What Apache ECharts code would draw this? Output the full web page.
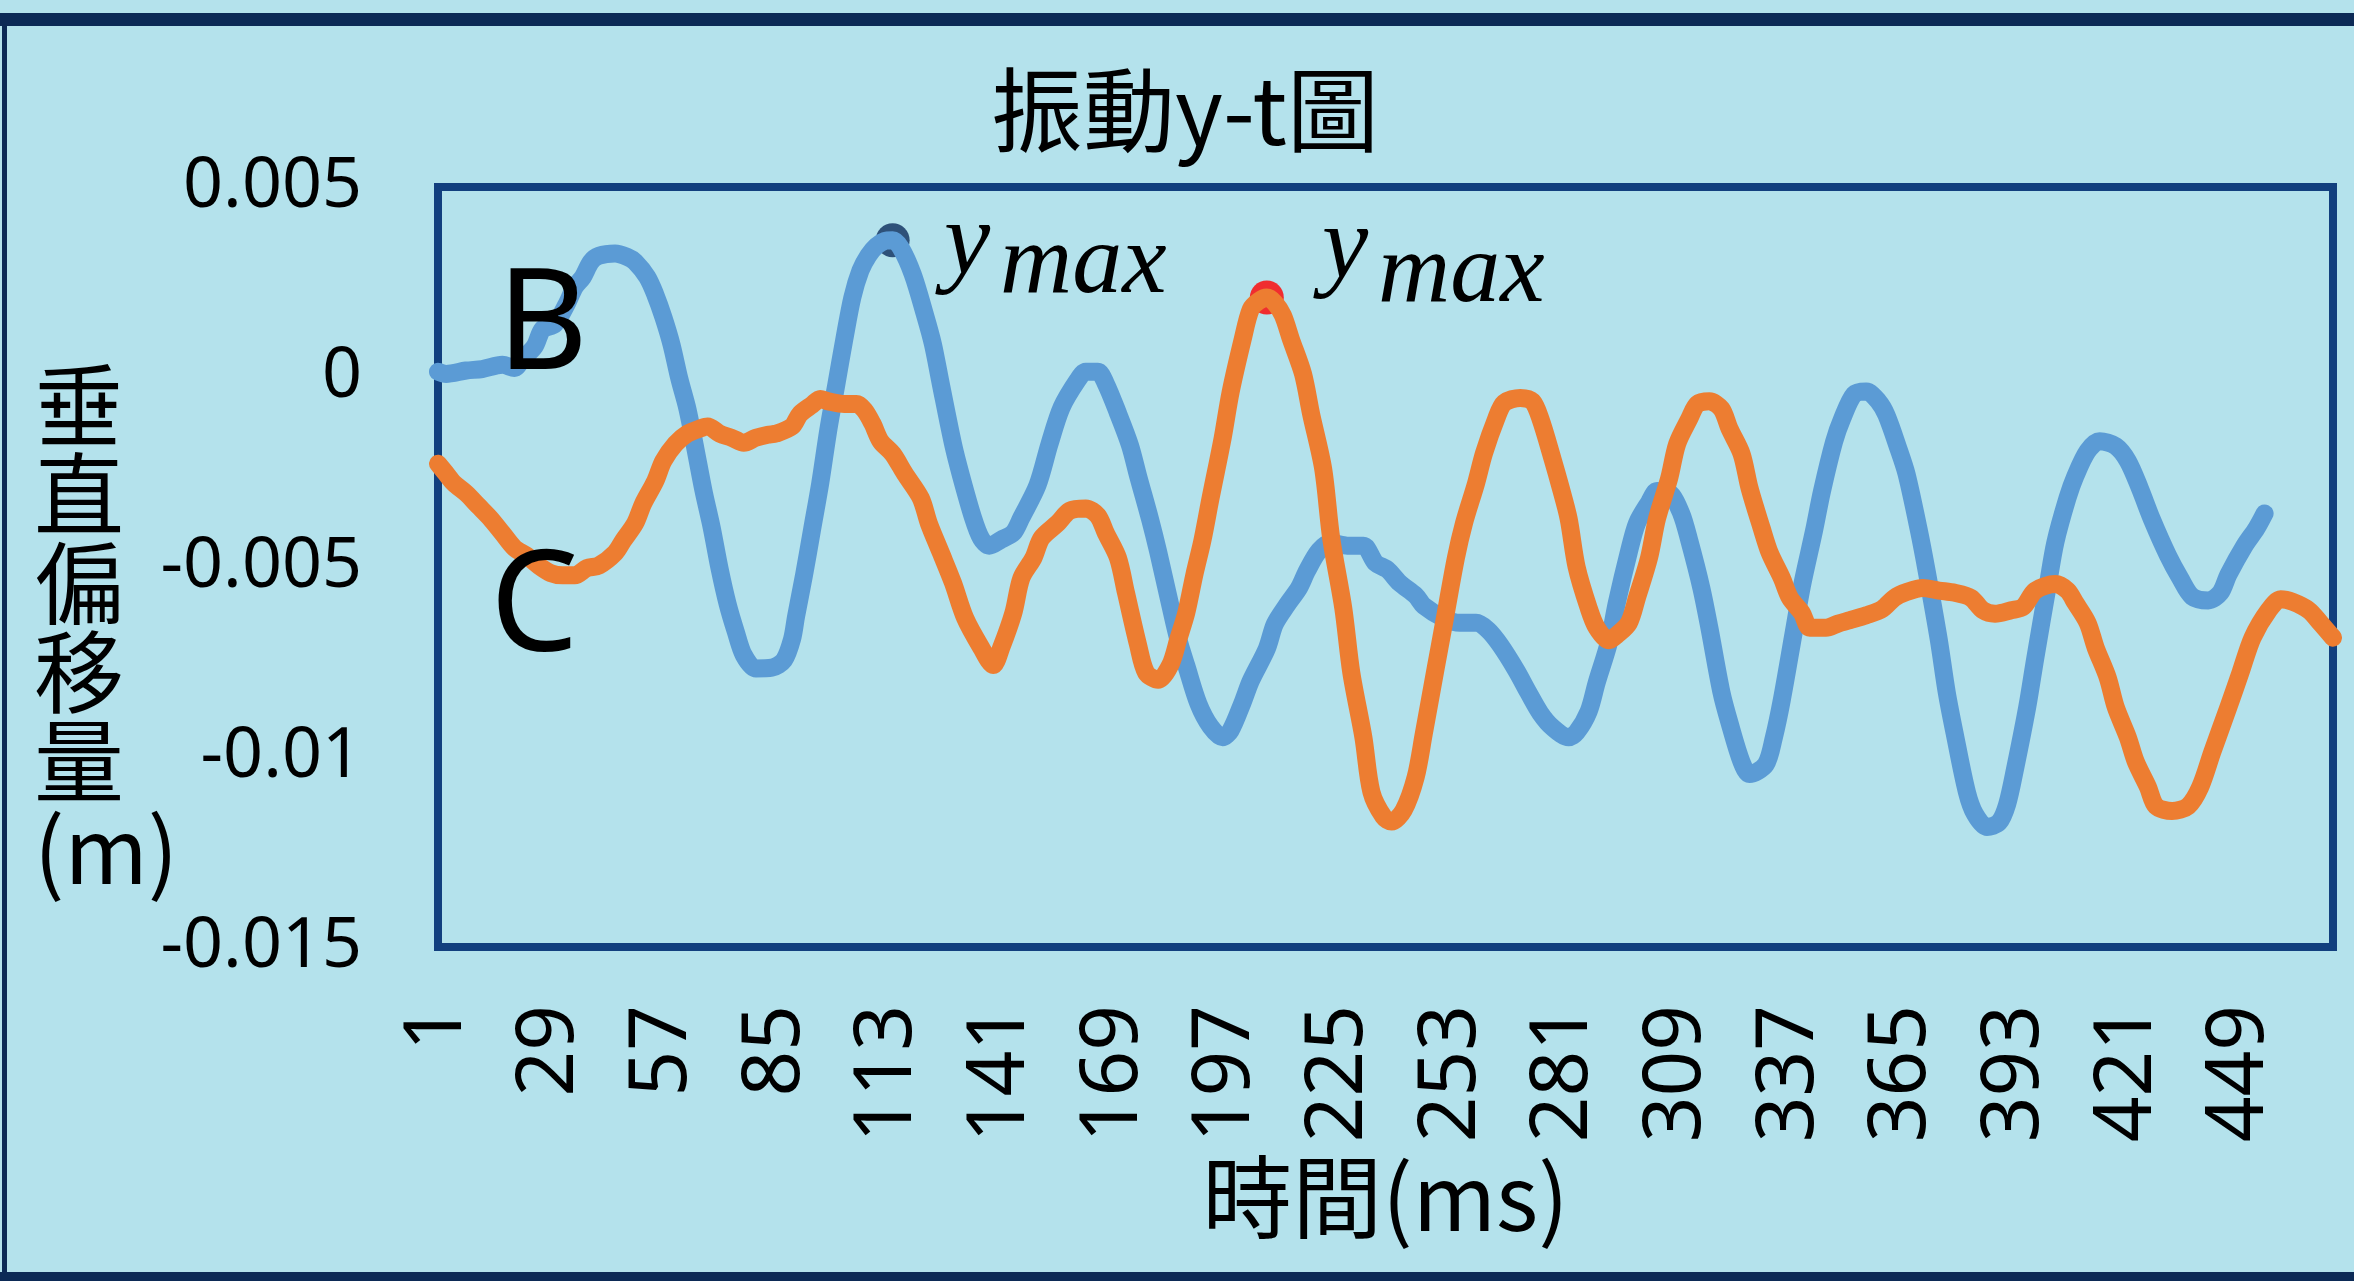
<!DOCTYPE html>
<html>
<head>
<meta charset="utf-8">
<script src="https://cdn.jsdelivr.net/npm/echarts@6/dist/echarts.min.js"></script>
<style>
  html, body { margin: 0; padding: 0; background: #b4e2ec; }
  #chart { width: 2354px; height: 1281px; }
</style>
</head>
<body>
<div id="chart"></div>
<script>
// Sample index (ms) count and the labelled ticks on the time axis
const sampleCount = 472;
const xTickLabels = [1, 29, 57, 85, 113, 141, 169, 197, 225, 253, 281, 309, 337, 365, 393, 421, 449];
const yTicks = { min: -0.015, max: 0.005, step: 0.005 };

// Point B: time (ms) and vertical displacement (mm)
const timeB = [1, 3, 8, 12, 17, 20, 22, 25, 27, 30, 33, 35, 37, 39, 41, 45, 48, 50, 53, 55, 57, 59, 61, 63, 65, 67, 69, 71, 73, 75, 77, 80, 84, 87, 89, 90, 92, 94, 96, 98, 100, 102, 104, 106, 108, 110, 112, 114, 116, 119, 122, 124, 126, 129, 131, 134, 136, 138, 141, 144, 146, 150, 153, 156, 160, 162, 165, 167, 170, 173, 175, 178, 180, 183, 185, 187, 190, 193, 196, 198, 201, 203, 207, 209, 212, 215, 217, 220, 223, 227, 231, 234, 237, 240, 244, 246, 251, 255, 259, 262, 265, 269, 272, 275, 278, 282, 284, 287, 289, 292, 294, 297, 299, 302, 304, 307, 310, 312, 315, 317, 320, 322, 325, 327, 331, 333, 335, 338, 340, 343, 345, 348, 350, 353, 356, 359, 361, 364, 366, 369, 371, 374, 376, 378, 381, 383, 386, 389, 391, 393, 396, 398, 401, 403, 406, 408, 411, 414, 418, 421, 424, 427, 431, 434, 437, 441, 444, 446, 450, 453, 455];
const dispB_mm = [0.14, 0.08, 0.17, 0.21, 0.32, 0.24, 0.47, 0.80, 1.26, 1.39, 1.92, 2.37, 2.63, 3.03, 3.19, 3.25, 3.16, 3.03, 2.63, 2.17, 1.58, 0.87, -0.05, -0.84, -1.9, -3.0, -3.95, -5.05, -5.98, -6.7, -7.32, -7.67, -7.65, -7.45, -6.9, -6.3, -5.2, -4.0, -2.8, -1.4, -0.2, 1.0, 2.1, 2.8, 3.2, 3.45, 3.58, 3.6, 3.4, 2.7, 1.65, 0.87, -0.2, -1.76, -2.6, -3.71, -4.25, -4.44, -4.28, -4.1, -3.7, -2.85, -1.76, -0.8, -0.08, 0.14, 0.14, -0.18, -0.95, -1.8, -2.6, -3.75, -4.6, -6.0, -6.9, -7.6, -8.6, -9.2, -9.48, -9.3, -8.56, -8.0, -7.15, -6.5, -6.0, -5.55, -5.1, -4.57, -4.37, -4.44, -4.44, -4.89, -5.07, -5.42, -5.75, -6.02, -6.35, -6.47, -6.47, -6.66, -7.05, -7.72, -8.3, -8.85, -9.22, -9.48, -9.35, -8.8, -8.04, -7.0, -5.94, -4.6, -3.85, -3.3, -3.0, -3.04, -3.59, -4.3, -5.55, -6.6, -8.3, -9.1, -10.13, -10.45, -10.2, -9.5, -8.5, -6.7, -5.5, -4.05, -3.0, -1.7, -1.1, -0.45, -0.38, -0.64, -1.0, -1.89, -2.55, -4.0, -5.1, -6.9, -8.3, -9.4, -10.92, -11.5, -11.84, -11.72, -11.25, -10.3, -8.69, -7.4, -5.55, -4.35, -3.19, -2.6, -1.95, -1.69, -1.82, -2.21, -2.93, -3.75, -4.7, -5.29, -5.78, -5.88, -5.68, -5.2, -4.44, -3.98, -3.59];

// Point C: time (ms) and vertical displacement (mm)
const timeC = [1, 3, 5, 8, 11, 14, 17, 20, 23, 26, 29, 32, 35, 38, 41, 45, 47, 50, 52, 55, 57, 60, 63, 66, 68, 71, 74, 77, 80, 83, 85, 89, 91, 94, 96, 98, 102, 105, 107, 109, 111, 114, 117, 121, 123, 126, 129, 132, 136, 139, 141, 144, 146, 149, 151, 155, 158, 162, 165, 167, 170, 172, 175, 177, 180, 183, 185, 187, 189, 191, 193, 196, 198, 201, 203, 205, 207, 209, 211, 213, 216, 218, 221, 223, 226, 228, 231, 233, 236, 238, 241, 244, 246, 249, 251, 254, 256, 259, 261, 264, 266, 270, 273, 275, 278, 280, 282, 284, 287, 289, 292, 294, 297, 299, 302, 304, 307, 309, 312, 314, 317, 320, 322, 325, 327, 330, 332, 335, 337, 340, 342, 346, 349, 352, 356, 360, 363, 366, 370, 374, 378, 382, 385, 388, 392, 395, 398, 403, 406, 408, 411, 413, 416, 418, 421, 423, 426, 428, 432, 436, 439, 442, 446, 449, 452, 456, 459, 462, 466, 469, 472];
const dispC_mm = [-2.28, -2.54, -2.8, -3.06, -3.39, -3.72, -4.11, -4.5, -4.7, -4.96, -5.16, -5.22, -5.22, -5.03, -4.96, -4.63, -4.31, -3.85, -3.33, -2.74, -2.21, -1.76, -1.49, -1.36, -1.3, -1.49, -1.6, -1.73, -1.6, -1.52, -1.49, -1.3, -0.97, -0.73, -0.58, -0.64, -0.71, -0.71, -0.87, -1.23, -1.69, -2.02, -2.54, -3.19, -3.85, -4.63, -5.42, -6.34, -7.12, -7.58, -7.12, -6.21, -5.29, -4.76, -4.24, -3.85, -3.52, -3.46, -3.65, -4.11, -4.76, -5.68, -7.05, -7.78, -7.97, -7.58, -6.9, -6.2, -5.2, -4.3, -3.2, -1.62, -0.4, 0.99, 1.78, 2.0, 2.09, 1.95, 1.62, 0.99, 0.08, -0.97, -2.41, -4.24, -6.08, -7.78, -9.48, -10.92, -11.57, -11.7, -11.4, -10.53, -9.4, -7.65, -6.5, -4.76, -3.85, -2.8, -2.0, -1.1, -0.68, -0.55, -0.64, -1.1, -2.15, -2.9, -3.72, -5.0, -6.08, -6.6, -6.93, -6.79, -6.47, -5.81, -4.76, -3.72, -2.67, -1.76, -1.1, -0.71, -0.64, -0.84, -1.36, -2.02, -2.93, -3.98, -4.63, -5.29, -5.81, -6.21, -6.6, -6.6, -6.49, -6.4, -6.27, -6.1, -5.81, -5.66, -5.55, -5.62, -5.68, -5.81, -6.14, -6.23, -6.14, -6.05, -5.62, -5.45, -5.62, -5.95, -6.47, -7.12, -7.91, -8.69, -9.48, -10.13, -10.79, -11.29, -11.42, -11.29, -10.79, -9.87, -8.69, -7.78, -6.86, -6.14, -5.85, -5.92, -6.14, -6.49, -6.86];

const categories = [];
for (let i = 1; i <= sampleCount; i++) categories.push(String(i));

const toPairs = (times, mm) => times.map((t, i) => [String(t), mm[i] / 1000]);
const seriesB = toPairs(timeB, dispB_mm);
const seriesC = toPairs(timeC, dispC_mm);

// highest point of a trace
function peakOf(pairs) {
  let k = 0;
  pairs.forEach((p, i) => { if (p[1] > pairs[k][1]) k = i; });
  return pairs[k];
}

const latin = '"Noto Sans", "Open Sans", "Noto Sans CJK TC", sans-serif';
const cjk = '"Noto Sans CJK TC", "Noto Sans", sans-serif';
const mathFont = '"Liberation Serif", "DejaVu Serif", serif';

// shared stroke for both traces
const traceStyle = (color) => ({ color: color, width: 18, cap: 'round', join: 'round' });

const chart = echarts.init(document.getElementById('chart'));
chart.setOption({
  backgroundColor: '#b4e2ec',
  animation: false,
  grid: {
    left: 438, right: 21, top: 187, bottom: 334,
    show: true, borderColor: '#123f7e', borderWidth: 8, backgroundColor: 'transparent'
  },
  xAxis: {
    type: 'category',
    data: categories,
    boundaryGap: false,
    axisLine: { show: false },
    axisTick: { show: false },
    splitLine: { show: false },
    axisLabel: {
      interval: (idx, val) => xTickLabels.indexOf(Number(val)) >= 0,
      rotate: 90,
      margin: 58,
      color: '#000',
      fontSize: 80,
      fontFamily: latin
    },
    name: '時間(ms)',
    nameLocation: 'middle',
    nameGap: 205,
    nameTextStyle: { color: '#000', fontSize: 90, fontFamily: cjk }
  },
  yAxis: {
    type: 'value',
    min: yTicks.min, max: yTicks.max, interval: yTicks.step,
    axisLine: { show: false },
    axisTick: { show: false },
    splitLine: { show: false },
    axisLabel: { color: '#000', fontSize: 70, margin: 76, fontFamily: latin }
  },
  series: [
    {
      name: 'ymax', type: 'scatter', z: 1,
      symbol: 'circle', symbolSize: 34,
      data: [
        { value: peakOf(seriesB), itemStyle: { color: '#0c2d5c' } },
        { value: peakOf(seriesC), itemStyle: { color: '#ff0000' } }
      ]
    },
    {
      name: 'B', type: 'line', z: 3, data: seriesB,
      showSymbol: false, symbol: 'none', smooth: 0.3,
      lineStyle: traceStyle('#5b9bd5'),
      emphasis: { disabled: true }
    },
    {
      name: 'C', type: 'line', z: 4, data: seriesC,
      showSymbol: false, symbol: 'none', smooth: 0.3,
      lineStyle: traceStyle('#ed7d31'),
      emphasis: { disabled: true }
    }
  ],
  graphic: [
    // outer frame
    { type: 'rect', z: 0, shape: { x: 0, y: 13, width: 2354, height: 13 }, style: { fill: '#0c2a56' } },
    { type: 'rect', z: 0, shape: { x: 2, y: 13, width: 5, height: 1268 }, style: { fill: '#0c2a56' } },
    { type: 'rect', z: 0, shape: { x: 0, y: 1272, width: 2354, height: 9 }, style: { fill: '#0c2a56' } },
    // title
    { type: 'text', z: 10, x: 1185, y: 110,
      style: { text: '振動y-t圖', fill: '#000', font: '92px ' + cjk, align: 'center', verticalAlign: 'middle' } },
    // vertical axis title
    { type: 'text', z: 10, x: 34, y: 360,
      style: { text: '垂\n直\n偏\n移\n量\n(m)', fill: '#000', fontSize: 90, fontFamily: cjk, lineHeight: 89, align: 'left', verticalAlign: 'top' } },
    // trace names
    { type: 'text', z: 10, x: 497, y: 329,
      style: { text: 'B', fill: '#000', font: '140px ' + latin, align: 'left', verticalAlign: 'middle' } },
    { type: 'text', z: 10, x: 490, y: 611,
      style: { text: 'C', fill: '#000', font: '140px ' + latin, align: 'left', verticalAlign: 'middle' } },
    // y_max annotations
    { type: 'text', z: 10, x: 944, y: 246,
      style: { text: 'y', fill: '#000', font: 'italic 104px ' + mathFont, align: 'left', verticalAlign: 'middle' } },
    { type: 'text', z: 10, x: 1000, y: 266,
      style: { text: 'max', fill: '#000', font: 'italic 100px ' + mathFont, align: 'left', verticalAlign: 'middle' } },
    { type: 'text', z: 10, x: 1322, y: 250,
      style: { text: 'y', fill: '#000', font: 'italic 104px ' + mathFont, align: 'left', verticalAlign: 'middle' } },
    { type: 'text', z: 10, x: 1378, y: 275,
      style: { text: 'max', fill: '#000', font: 'italic 100px ' + mathFont, align: 'left', verticalAlign: 'middle' } }
  ]
});
</script>
</body>
</html>
